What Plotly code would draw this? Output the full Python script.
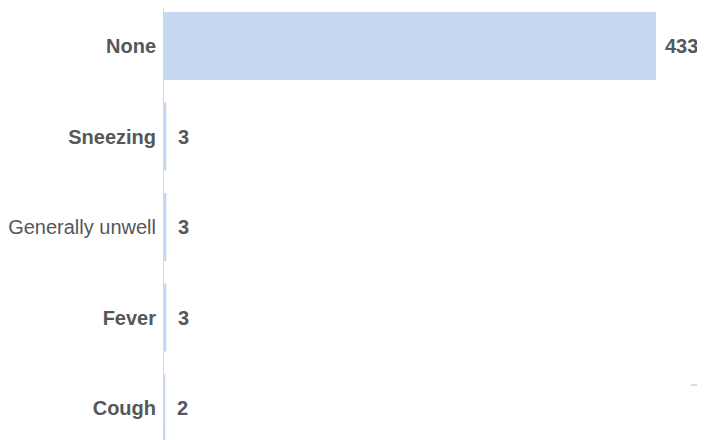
import plotly.graph_objects as go

categories = ["None", "Sneezing", "Generally unwell", "Fever", "Cough"]
values = [433, 3, 3, 3, 2]
bold_labels = [True, True, False, True, True]

tick_text = [f"<b>{c}</b>" if b else c for c, b in zip(categories, bold_labels)]

BAR = "#c5d8ef"
TXT = "#555759"
FS = 20
W, H = 697, 432
L = 155

fig = go.Figure()
fig.add_trace(go.Bar(
    x=values, y=categories, orientation="h",
    marker=dict(color=BAR, line=dict(width=0)),
    width=0.75, hoverinfo="skip",
))

vmax = max(values)
for c, v in zip(categories, values):
    fig.add_annotation(x=v, y=c, text=f"<b>{v}</b>", showarrow=False,
                       xanchor="left", xshift=7 if v == vmax else 10,
                       font=dict(size=FS, color=TXT, family="Arial, Liberation Sans"))

# axis line
fig.add_shape(type="line", xref="x", yref="paper", x0=0, x1=0, y0=1 - 412 / H, y1=1,
              line=dict(color="#d9d9d9", width=2), layer="above")
fig.add_shape(type="line", xref="paper", yref="paper",
              x0=(683 - L) / (W - L), x1=1.0, y0=1 - 377 / H, y1=1 - 377 / H,
              line=dict(color="#d0d0d0", width=1.5))

spacing = 90.5
y_top = -38 / spacing
fig.update_layout(
    width=W, height=H,
    margin=dict(l=L, r=0, t=0, b=0),
    paper_bgcolor="white", plot_bgcolor="white",
    showlegend=False, bargap=0.25,
    font=dict(family="Arial, Liberation Sans", size=FS, color=TXT),
    xaxis=dict(range=[0, (W - L) * 433 / (648 - L)], visible=False, fixedrange=True),
    yaxis=dict(type="category", categoryorder="array", categoryarray=categories,
               tickmode="array", tickvals=categories, ticktext=tick_text,
               range=[y_top + H / spacing, y_top], showgrid=False, zeroline=False,
               showline=False, ticks="", ticklabelstandoff=6,
               tickfont=dict(size=FS, color=TXT)),
)

fig.write_html("out.html")
